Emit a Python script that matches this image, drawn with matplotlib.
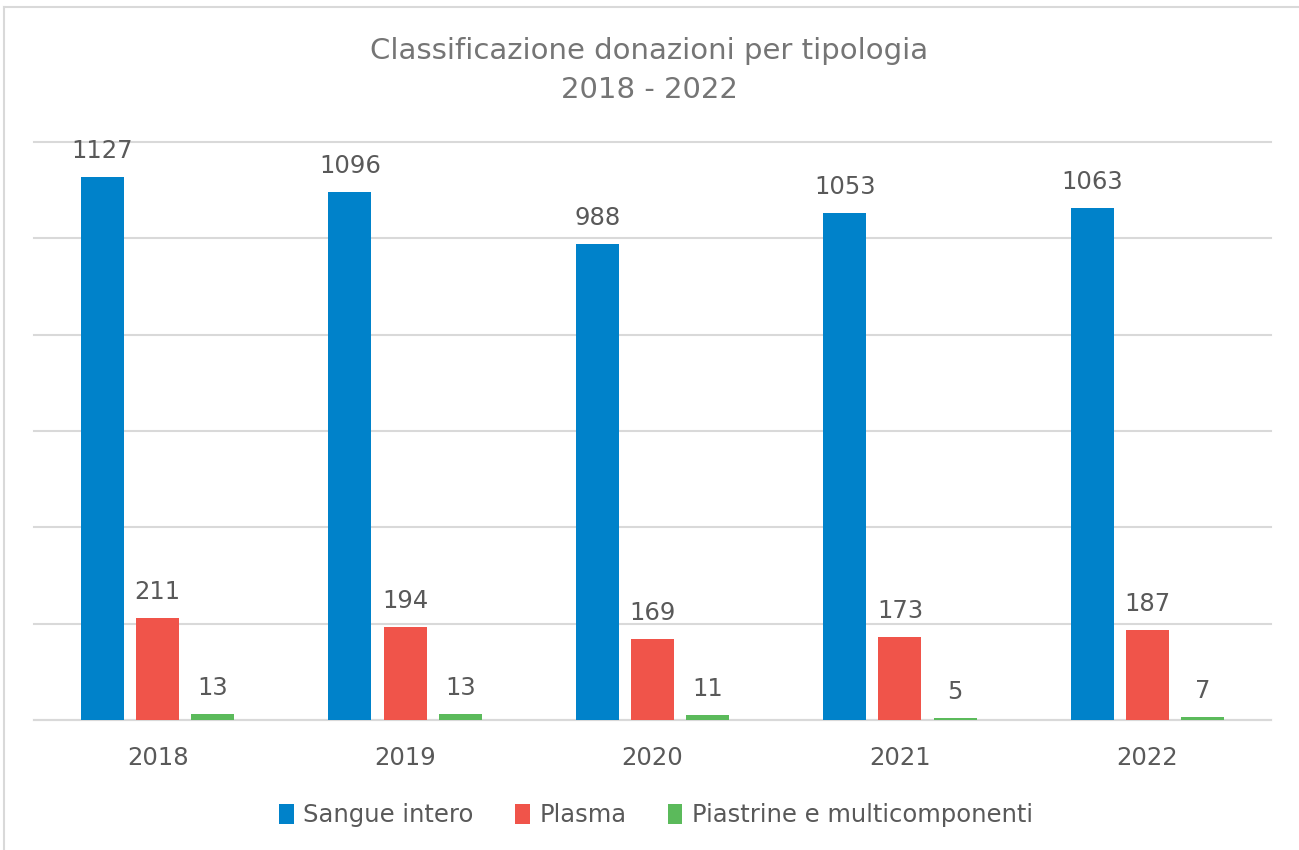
import numpy as np
import matplotlib.pyplot as plt
from matplotlib.lines import Line2D

years = ["2018", "2019", "2020", "2021", "2022"]
sangue = [1127, 1096, 988, 1053, 1063]
plasma = [211, 194, 169, 173, 187]
piastrine = [13, 13, 11, 5, 7]

series = [
    ("Sangue intero", sangue, "#0082CA"),
    ("Plasma", plasma, "#F0544A"),
    ("Piastrine e multicomponenti", piastrine, "#5BBA5B"),
]

plt.rcParams["font.family"] = ["DejaVu Sans"]
text_col = "#595959"

fig = plt.figure(figsize=(12.99, 8.5), dpi=100)
ax = fig.add_axes([0.0262, 0.1529, 0.9523, 0.6801])

x = np.arange(len(years))
width = 0.174
step = 0.223
for i, (name, vals, col) in enumerate(series):
    pos = x + (i - 1) * step
    bars = ax.bar(pos, vals, width, color=col, label=name, zorder=3)
    for b, v in zip(bars, vals):
        ax.annotate(str(v), (b.get_x() + b.get_width() / 2, v),
                    xytext=(0, 10), textcoords="offset points",
                    ha="center", va="bottom", fontsize=17.5, color=text_col)

ax.set_xlim(-0.5, len(years) - 0.5)
ax.set_ylim(0, 1200)
ax.set_yticks(np.arange(0, 1201, 200))
ax.yaxis.grid(True, color="#D9D9D9", lw=1.5, zorder=0)
for gl in ax.get_ygridlines():
    gl.set_clip_on(False)
ax.tick_params(axis="y", left=False, labelleft=False)
ax.tick_params(axis="x", length=0, pad=19, labelsize=17.5, labelcolor=text_col)
ax.set_xticks(x)
ax.set_xticklabels(years)
for s in ["top", "right", "left"]:
    ax.spines[s].set_visible(False)
ax.spines["bottom"].set_color("#D9D9D9")
ax.spines["bottom"].set_linewidth(1.5)

fig.text(0.5, 0.917, "Classificazione donazioni per tipologia\n2018 - 2022",
         ha="center", va="center", fontsize=21, color="#757575", linespacing=1.5)

fig.legend(loc="center", bbox_to_anchor=(0.505, 0.041), ncol=3, frameon=False,
           fontsize=17.5, labelcolor=text_col, handlelength=0.6, handleheight=0.9,
           handletextpad=0.4, columnspacing=1.7)

# light frame (top and left edges) around the chart
frame_kw = dict(transform=fig.transFigure, color="#D9D9D9", lw=1.5)
fig.lines.append(Line2D([0.003, 1.0], [0.992, 0.992], **frame_kw))
fig.lines.append(Line2D([0.003, 0.003], [0.0, 0.992], **frame_kw))

fig.savefig("out.png", dpi=100)
